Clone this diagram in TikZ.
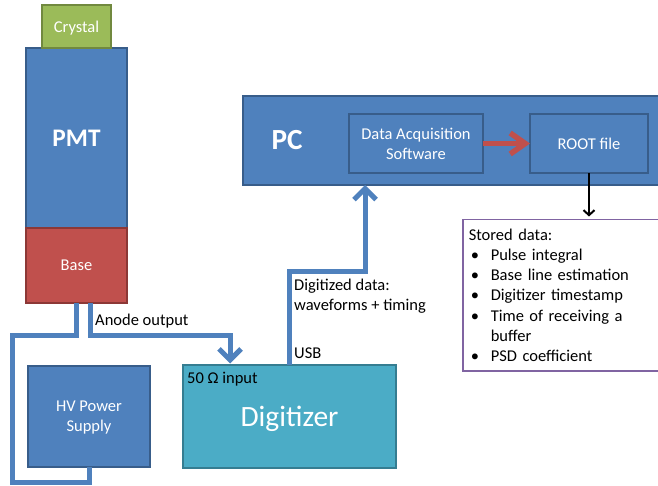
\documentclass[tikz,border=0pt]{standalone}
\usepackage{fontspec}
\setmainfont{Carlito}
\usetikzlibrary{positioning,arrows.meta}
\definecolor{ofblue}{HTML}{4F81BD}
\definecolor{ofblueline}{HTML}{385D8A}
\definecolor{ofred}{HTML}{C0504D}
\definecolor{ofredline}{HTML}{8C3836}
\definecolor{ofgreen}{HTML}{9BBB59}
\definecolor{ofgreenline}{HTML}{71893F}
\definecolor{ofteal}{HTML}{4BACC6}
\definecolor{oftealline}{HTML}{357D91}
\definecolor{ofpurple}{HTML}{8064A2}
\newcommand{\lbl}{\fontsize{16.5}{20.3}\selectfont}
\newcommand{\itm}[1]{\hspace*{2pt}\makebox[20pt][l]{\textbullet}#1}

\begin{document}
\begin{tikzpicture}[x=1pt,y=-1pt,
    box/.style={draw,line width=1.5pt,outer sep=0pt,inner sep=0pt,align=center,text=white,font=\lbl,text depth=0pt},
    wire/.style={draw=ofblue,line width=5pt},
    barb/.style={-{Straight Barb[length=11pt,width=22pt]}},
    txt/.style={font=\lbl,inner sep=0pt,anchor=west,align=left}]
    \useasboundingbox (0,0) rectangle (658,486);
    \clip (0,0) rectangle (658,486);
    % detector stack
    \node[box,fill=ofblue,draw=ofblueline,minimum width=101pt,minimum height=180pt] (pmt) at (76.5,138) {\fontsize{25.3}{30}\selectfont\bfseries PMT};
    \node[box,fill=ofgreen,draw=ofgreenline,minimum width=69pt,minimum height=43pt,above=0pt of pmt] (crys) {Crystal};
    \node[box,fill=ofred,draw=ofredline,minimum width=101pt,minimum height=75pt,below=0pt of pmt] (base) {Base};
    \node[box,fill=ofblue,draw=ofblueline,minimum width=122pt,minimum height=101pt] (hv) at (89,416.5) {HV Power\\Supply};
    \node[box,fill=ofteal,draw=oftealline,minimum width=213pt,minimum height=103pt] (dig) at (289.5,416.5) {\fontsize{29.5}{34}\selectfont Digitizer};
    \node[txt] (ohm) at (187,379) {50 Ω input};
    % computer
    \node[box,fill=ofblue,draw=ofblueline,minimum width=419pt,minimum height=89pt] (pc) at (452.5,140.5) {};
    \node[box,draw=none] (pcname) at (287,140) {\fontsize{29.2}{34}\selectfont\bfseries PC};
    \node[box,fill=ofblue,draw=ofblueline,minimum width=134pt,minimum height=59pt] (daq) at (416,143.5) {Data Acquisition\\Software};
    \node[box,fill=ofblue,draw=ofblueline,minimum width=118pt,minimum height=59pt] (root) at (589,143.5) {ROOT file};
    \node[draw=ofpurple,line width=1.5pt,font=\lbl,inner xsep=6pt,inner ysep=0pt,text width=190pt,minimum height=151pt,align=left,anchor=north west] (stored) at (462,219) {Stored data:\\
      \itm{Pulse integral}\\
      \itm{Base line estimation}\\
      \itm{Digitizer timestamp}\\
      \itm{Time of receiving a}\\
      \hspace*{22pt}buffer\\
      \itm{PSD coefficient}};
    % cables
    \coordinate (hvbend) at (12,335);
    \coordinate (hvlow) at (12,482.5);
    \coordinate (anodebend) at (230,335);
    \coordinate (usbbend) at (365,271);
    \draw[wire] (base.south) |- (hvbend) -- (hvlow) -| (hv.south);
    \draw[wire,barb,shorten >=1.5pt] ([xshift=13.5pt]base.south) |- (anodebend) -- (anodebend |- dig.north);
    \draw[wire,barb] (dig.north) |- (usbbend) -- (usbbend |- pc.south);
    \draw[draw=ofred,line width=5.5pt,-{Straight Barb[length=15pt,width=21pt]}] (daq.east) -- (root.west);
    \draw[line width=2pt,-{Straight Barb[length=5pt,width=11pt]},shorten >=2.5pt] (root.south) -- (root.south |- stored.north);
    \node[txt] (anode) at (95,321.5) {Anode output};
    \node[txt] (digdata) at (294,296.5) {Digitized data:\\waveforms + timing};
    \node[txt] (usb) at (294,353) {USB};
  \end{tikzpicture}
\end{document}
